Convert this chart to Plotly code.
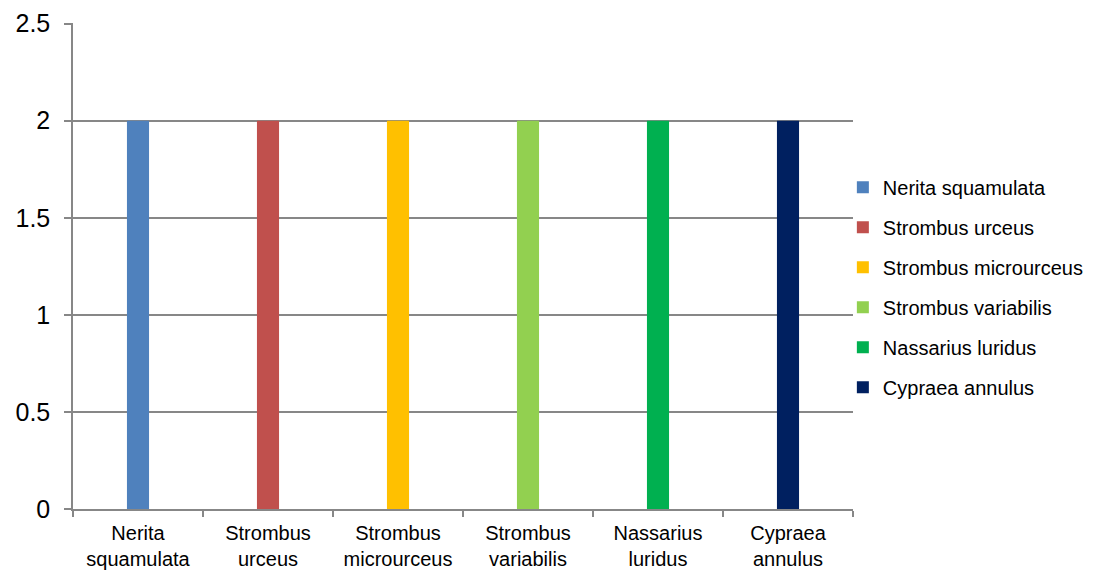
import plotly.graph_objects as go

categories = ["Nerita<br>squamulata", "Strombus<br>urceus", "Strombus<br>microurceus",
              "Strombus<br>variabilis", "Nassarius<br>luridus", "Cypraea<br>annulus"]
series_names = ["Nerita squamulata", "Strombus urceus", "Strombus microurceus",
                "Strombus variabilis", "Nassarius luridus", "Cypraea annulus"]
values = [2, 2, 2, 2, 2, 2]
colors = ["#4F81BD", "#C0504D", "#FFC000", "#92D050", "#00B050", "#002060"]
y_ticks = [0, 0.5, 1, 1.5, 2, 2.5]
y_ticktext = ["0", "0.5", "1", "1.5", "2", "2.5"]

FONT = "Liberation Sans, Arial, sans-serif"
GRID = "#878787"

fig = go.Figure()
for name, cat, val, col in zip(series_names, categories, values, colors):
    fig.add_trace(go.Bar(
        x=[cat], y=[val], name=name, marker_color=col, marker_line_width=0,
        width=0.17, legendgroup=name,
    ))

fig.update_layout(
    width=1102, height=570,
    margin=dict(l=73, r=249, t=23, b=61),
    paper_bgcolor="white", plot_bgcolor="white",
    barmode="overlay",
    font=dict(family=FONT, color="black"),
    showlegend=True,
    legend=dict(
        x=0.987, xanchor="left", y=0.702, yanchor="top",
        font=dict(size=20, family=FONT, color="black"),
        tracegroupgap=11, traceorder="grouped",
        bgcolor="rgba(0,0,0,0)", borderwidth=0,
    ),
    xaxis=dict(
        categoryorder="array", categoryarray=categories,
        showline=True, linecolor=GRID, linewidth=1.5,
        ticks="outside", tickson="boundaries", ticklen=6, tickcolor=GRID, tickwidth=1.5,
        tickfont=dict(size=20, family=FONT, color="black"),
        showgrid=False, zeroline=False, fixedrange=True, automargin=False,
        ticklabelstandoff=5,
    ),
    yaxis=dict(
        range=[0, 2.503], tickvals=y_ticks, ticktext=y_ticktext,
        showline=True, linecolor=GRID, linewidth=1.5,
        ticks="outside", ticklen=7, tickcolor=GRID, tickwidth=1.5,
        showgrid=True, gridcolor=GRID, gridwidth=1.5,
        zeroline=False, automargin=False,
        tickfont=dict(size=25, family=FONT, color="black"),
        ticklabelstandoff=9,
    ),
)

fig.write_html("out.html")
